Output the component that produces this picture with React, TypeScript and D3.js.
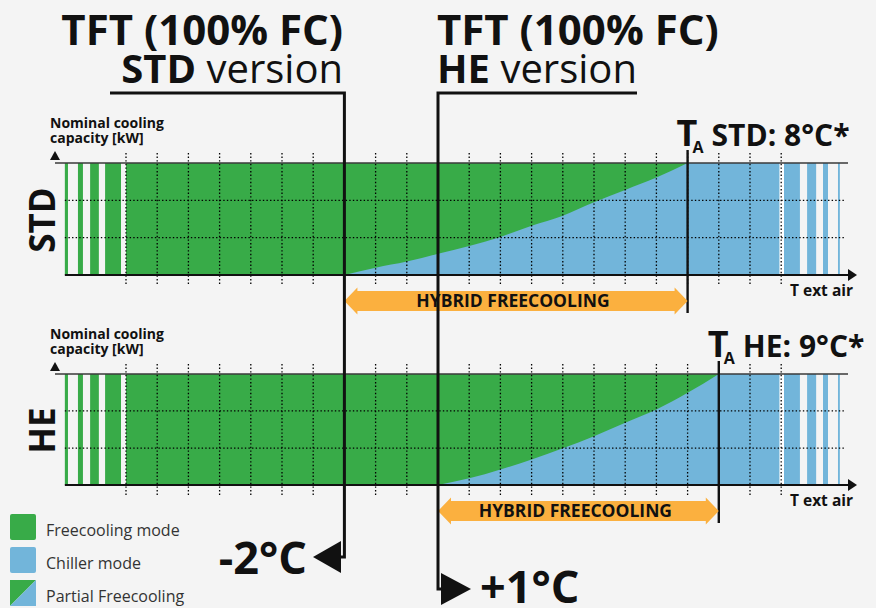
import React, { useEffect, useRef } from 'react';
import * as d3 from 'd3';

// x is measured in grid cells (one dotted column = one cell), y in % of nominal capacity
const gridCells = d3.range(0, 22);
const capacityGrid = [33.3, 66.7];

const stdCurveX = [7, 8, 9, 10, 11, 12, 13, 14, 15, 16, 17, 18];
const stdCurveY = [0, 6.5, 12, 19, 26, 34, 44, 53, 65, 76, 87, 100];
const heCurveX = [10, 11, 12, 13, 14, 15, 16, 17, 18, 19];
const heCurveY = [0, 6, 14, 23, 33, 44, 56, 68, 83, 100];

const leftStripes = [[-1.96, -1.86], [-1.54, -1.38], [-1.15, -0.87], [-0.67, -0.16]];
const rightStripes = [[21.09, 21.6], [21.83, 22.12], [22.34, 22.5], [22.82, 22.88]];
const chillerEnd = 20.95;

const panelNames = ['STD', 'HE'];
const taLabels = ['STD: 8°C*', 'HE: 9°C*'];
const tftTemps = ['-2°C', '+1°C'];
const legendLabels = ['Freecooling mode', 'Chiller mode', 'Partial Freecooling'];

const GREEN = '#38ab48';
const BLUE = '#72b5da';
const ORANGE = '#fbb03f';
const BG = '#f4f4f4';
const FONT = '"Open Sans", "Noto Sans", sans-serif';

export default function App() {
  const svgRef = useRef<SVGSVGElement>(null);

  useEffect(() => {
    if (!svgRef.current) return;
    document.body.style.margin = '0';
    const svg = d3.select(svgRef.current);
    svg.selectAll('*').remove();
    svg.attr('font-family', FONT);

    svg.append('rect').attr('width', 876).attr('height', 608).attr('fill', BG);

    const x = d3.scaleLinear().domain([0, 21]).range([126, 781.2]);

    const panels = [
      { top: 163, bottom: 275, cx: stdCurveX, cy: stdCurveY },
      { top: 374, bottom: 485, cx: heCurveX, cy: heCurveY },
    ];

    panels.forEach((p, i) => {
      const y = d3.scaleLinear().domain([0, 100]).range([p.bottom, p.top]);
      const g = svg.append('g');
      const pts = p.cx.map((v, k) => [v, p.cy[k]] as [number, number]);
      const end = p.cx[p.cx.length - 1];

      // freecooling block
      g.append('rect')
        .attr('x', x(0)).attr('y', y(100))
        .attr('width', x(end) - x(0)).attr('height', y(0) - y(100))
        .attr('fill', GREEN);
      // chiller part under the curve
      const area = d3.area<[number, number]>()
        .x(d => x(d[0]))
        .y0(y(0))
        .y1(d => y(d[1]))
        .curve(d3.curveMonotoneX);
      g.append('path').datum(pts).attr('d', area).attr('fill', BLUE);
      g.append('rect')
        .attr('x', x(end) - 0.5).attr('y', y(100))
        .attr('width', x(chillerEnd) - x(end) + 0.5).attr('height', y(0) - y(100))
        .attr('fill', BLUE);

      g.selectAll('.ls').data(leftStripes).enter().append('rect')
        .attr('x', d => x(d[0])).attr('y', y(100))
        .attr('width', d => x(d[1]) - x(d[0])).attr('height', y(0) - y(100))
        .attr('fill', GREEN);
      g.selectAll('.rs').data(rightStripes).enter().append('rect')
        .attr('x', d => x(d[0])).attr('y', y(100))
        .attr('width', d => x(d[1]) - x(d[0])).attr('height', y(0) - y(100))
        .attr('fill', BLUE);
      g.append('rect')
        .attr('x', x(chillerEnd)).attr('y', y(100))
        .attr('width', x(21.09) - x(chillerEnd)).attr('height', y(0) - y(100))
        .attr('fill', '#fff');

      // dotted grid
      g.selectAll('.hg').data(capacityGrid).enter().append('line')
        .attr('x1', x(-1.96)).attr('x2', 845)
        .attr('y1', d => y(d)).attr('y2', d => y(d))
        .attr('stroke', '#000').attr('stroke-width', 1.3)
        .attr('stroke-dasharray', '1.4,2.2');
      g.selectAll('.vg').data(gridCells).enter().append('line')
        .attr('x1', d => x(d)).attr('x2', d => x(d))
        .attr('y1', y(100) - 10).attr('y2', y(0) + 11)
        .attr('stroke', '#000').attr('stroke-width', 1.3)
        .attr('stroke-dasharray', '1.4,2.2');

      // top line & axes
      g.append('line')
        .attr('x1', 55).attr('x2', 848).attr('y1', y(100)).attr('y2', y(100))
        .attr('stroke', '#3a3a3a').attr('stroke-width', 1.6);
      g.append('path')
        .attr('d', `M50,${y(100) - 3}L60,${y(100) - 3}L55,${y(100) - 12}Z`)
        .attr('fill', '#111');
      g.append('line')
        .attr('x1', x(-1.96)).attr('x2', 850).attr('y1', y(0)).attr('y2', y(0))
        .attr('stroke', '#111').attr('stroke-width', 1.8);
      g.append('path')
        .attr('d', `M848,${y(0) - 6}L857,${y(0)}L848,${y(0) + 6}Z`)
        .attr('fill', '#111');

      g.append('text')
        .attr('x', 790).attr('y', y(0) + 21)
        .attr('font-size', 15.5).attr('font-weight', 700).attr('fill', '#111')
        .text('T ext air');

      const nom = g.append('text')
        .attr('font-size', 14).attr('font-weight', 700).attr('fill', '#111');
      nom.append('tspan').attr('x', 50).attr('y', y(100) - 35).text('Nominal cooling');
      nom.append('tspan').attr('x', 50).attr('y', y(100) - 20).text('capacity [kW]');

      g.append('text')
        .attr('transform', `translate(55,${(y(0) + y(100)) / 2 + 1}) rotate(-90)`)
        .attr('text-anchor', 'middle')
        .attr('font-size', 35).attr('font-weight', 700).attr('fill', '#111')
        .text(panelNames[i]);

      // T_A marker
      const taX = x(end);
      g.append('line')
        .attr('x1', taX).attr('x2', taX).attr('y1', y(100) - 13).attr('y2', y(0) + 38)
        .attr('stroke', '#111').attr('stroke-width', 2.4);
      const ta = g.append('text').attr('font-weight', 700).attr('fill', '#111');
      ta.append('tspan').attr('x', taX - 11).attr('y', y(100) - 17)
        .attr('font-size', 36).text('T');
      ta.append('tspan').attr('x', taX + 5).attr('y', y(100) - 10)
        .attr('font-size', 16).text('A');
      g.append('text')
        .attr('x', taX + 24).attr('y', y(100) - 17)
        .attr('font-size', 30).attr('font-weight', 700).attr('fill', '#111')
        .text(taLabels[i]);

      // hybrid freecooling arrow
      const a0 = x(p.cx[0]);
      const a1 = taX;
      const cy = y(0) + 26;
      g.append('path')
        .attr('d', `M${a0},${cy}L${a0 + 13},${cy - 13.5}L${a0 + 13},${cy - 10}L${a1 - 13},${cy - 10}L${a1 - 13},${cy - 13.5}L${a1},${cy}L${a1 - 13},${cy + 13.5}L${a1 - 13},${cy + 10}L${a0 + 13},${cy + 10}L${a0 + 13},${cy + 13.5}Z`)
        .attr('fill', ORANGE);
      g.append('text')
        .attr('x', (a0 + a1) / 2 - 3).attr('y', cy + 6)
        .attr('text-anchor', 'middle')
        .attr('font-size', 17.5).attr('font-weight', 700).attr('fill', '#111')
        .text('HYBRID FREECOOLING');
    });

    // TFT leader lines
    const sx = x(stdCurveX[0]);
    const hx = x(heCurveX[0]);
    svg.append('path')
      .attr('d', `M110,93L${sx},93L${sx},557L336,557`)
      .attr('fill', 'none').attr('stroke', '#111').attr('stroke-width', 3);
    svg.append('path')
      .attr('d', `M313,557L341,541L341,573Z`).attr('fill', '#111');
    svg.append('path')
      .attr('d', `M637,93L${hx},93L${hx},589L446,589`)
      .attr('fill', 'none').attr('stroke', '#111').attr('stroke-width', 3);
    svg.append('path')
      .attr('d', `M471,589L441,573L441,605Z`).attr('fill', '#111');

    svg.append('text')
      .attr('x', 307).attr('y', 574).attr('text-anchor', 'end')
      .attr('font-size', 45).attr('font-weight', 700).attr('fill', '#111')
      .text(tftTemps[0]);
    svg.append('text')
      .attr('x', 480).attr('y', 603)
      .attr('font-size', 45).attr('font-weight', 700).attr('fill', '#111')
      .text(tftTemps[1]);

    // headings
    svg.append('text')
      .attr('x', 343).attr('y', 45).attr('text-anchor', 'end')
      .attr('font-size', 42).attr('font-weight', 700).attr('fill', '#111')
      .text('TFT (100% FC)');
    const h1 = svg.append('text')
      .attr('x', 343).attr('y', 83).attr('text-anchor', 'end')
      .attr('font-size', 40).attr('fill', '#111');
    h1.append('tspan').attr('font-weight', 700).text('STD');
    h1.append('tspan').text(' version');

    svg.append('text')
      .attr('x', 437).attr('y', 45)
      .attr('font-size', 42).attr('font-weight', 700).attr('fill', '#111')
      .text('TFT (100% FC)');
    const h2 = svg.append('text')
      .attr('x', 437).attr('y', 83)
      .attr('font-size', 40).attr('fill', '#111');
    h2.append('tspan').attr('font-weight', 700).text('HE');
    h2.append('tspan').text(' version');

    // legend
    const lg = svg.append('g');
    legendLabels.forEach((label, k) => {
      const ly = 514 + k * 33;
      if (k < 2) {
        lg.append('rect').attr('x', 10).attr('y', ly).attr('width', 26).attr('height', 26)
          .attr('rx', 2).attr('fill', k === 0 ? GREEN : BLUE);
      } else {
        lg.append('path').attr('d', `M10,${ly}L36,${ly}L10,${ly + 26}Z`).attr('fill', GREEN);
        lg.append('path').attr('d', `M36,${ly}L36,${ly + 26}L10,${ly + 26}Z`).attr('fill', BLUE);
      }
      lg.append('text')
        .attr('x', 46).attr('y', ly + 22)
        .attr('font-size', 16).attr('fill', '#333')
        .text(label);
    });
  }, []);

  return (
    <svg
      ref={svgRef}
      width={876}
      height={608}
      style={{ position: 'absolute', left: 0, top: 0, display: 'block' }}
    />
  );
}
